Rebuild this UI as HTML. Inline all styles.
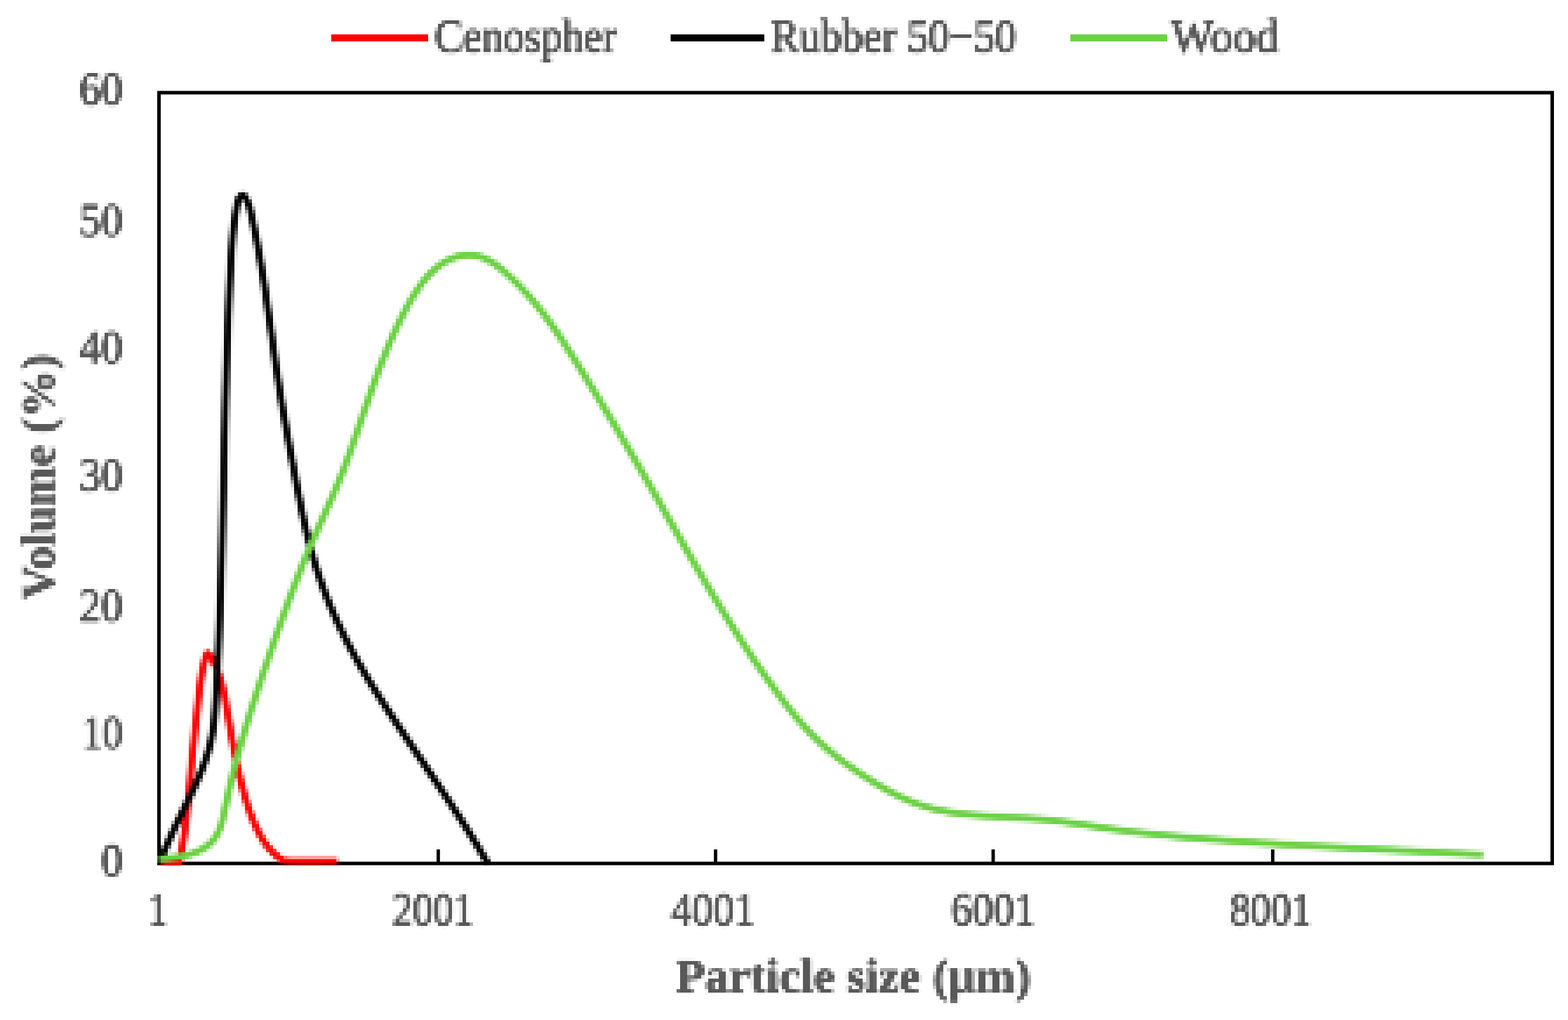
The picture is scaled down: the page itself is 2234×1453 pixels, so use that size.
<!DOCTYPE html>
<html lang="en">
<head>
<meta charset="utf-8">
<title>Particle size distribution</title>
<style>
html,body{margin:0;padding:0;background:#fff;}
body{width:2234px;height:1453px;overflow:hidden;}
svg{display:block;}
text{font-family:"Liberation Serif","DejaVu Serif",serif;font-size:66.7px;fill:#595959;}
</style>
</head>
<body>
<svg xmlns="http://www.w3.org/2000/svg" width="2234" height="1453" viewBox="0 0 2234 1453">
<rect x="0" y="0" width="2234" height="1453" fill="#ffffff"/>
<defs>
<filter id="px" filterUnits="userSpaceOnUse" primitiveUnits="userSpaceOnUse" x="-11" y="-11" width="2256" height="1475" color-interpolation-filters="sRGB">
<feGaussianBlur in="SourceGraphic" stdDeviation="1.45" result="avg"/>
<feFlood x="1" y="1" width="1" height="1" flood-color="#000" result="dot"/>
<feComposite in="dot" in2="dot" operator="over" x="-1" y="-1" width="5" height="5" result="cell"/>
<feTile in="cell" result="grid"/>
<feComposite in="avg" in2="grid" operator="in" result="samp"/>
<feMorphology in="samp" operator="dilate" radius="2"/>
</filter>
<filter id="pxt" filterUnits="userSpaceOnUse" primitiveUnits="userSpaceOnUse" x="-11" y="-11" width="2256" height="1475" color-interpolation-filters="sRGB">
<feGaussianBlur in="SourceGraphic" stdDeviation="1.45" result="avg"/>
<feFlood x="1" y="1" width="1" height="1" flood-color="#000" result="dot"/>
<feComposite in="dot" in2="dot" operator="over" x="-1" y="-1" width="5" height="5" result="cell"/>
<feTile in="cell" result="grid"/>
<feComposite in="avg" in2="grid" operator="in" result="samp"/>
<feMorphology in="samp" operator="dilate" radius="2" result="mos"/>
<feComponentTransfer in="mos"><feFuncA type="linear" slope="1.5" intercept="0"/></feComponentTransfer>
</filter>
</defs>
<rect x="226.5" y="132.0" width="1985.0" height="1098.0" fill="none" stroke="#000" stroke-width="5"/>
<rect x="622.0" y="1210" width="4.8" height="20" fill="#000"/>
<rect x="1017.1" y="1210" width="4.8" height="20" fill="#000"/>
<rect x="1412.6" y="1210" width="4.8" height="20" fill="#000"/>
<rect x="1810.9" y="1210" width="4.8" height="20" fill="#000"/>
<clipPath id="plot"><rect x="224.0" y="129.5" width="1990.0" height="1103.0"/></clipPath>
<g fill="none" stroke-linejoin="round" stroke-linecap="butt" stroke-width="9.8" clip-path="url(#plot)" filter="url(#px)">
<path d="M229,1230 L254.5,1230.0 L255.5,1229.0 L256.1,1226.1 L256.7,1223.1 L257.2,1220.2 L257.8,1217.2 L258.3,1214.3 L258.8,1211.3 L259.3,1208.3 L259.8,1205.4 L260.3,1202.4 L260.8,1199.5 L261.2,1196.5 L261.7,1193.5 L262.1,1190.6 L262.6,1187.6 L263.0,1184.6 L263.4,1181.6 L263.8,1178.7 L264.2,1175.7 L264.5,1172.7 L264.9,1169.7 L265.3,1166.7 L265.6,1163.8 L266.0,1160.8 L266.3,1157.8 L266.6,1154.8 L267.0,1151.8 L267.3,1148.8 L267.6,1145.8 L267.9,1142.9 L268.2,1139.9 L268.5,1136.9 L268.8,1133.9 L269.1,1130.9 L269.4,1127.9 L269.7,1124.9 L269.9,1121.9 L270.2,1118.9 L270.5,1115.9 L270.8,1112.9 L271.0,1110.0 L271.3,1107.0 L271.6,1104.0 L271.9,1101.0 L272.1,1098.0 L272.4,1095.0 L272.7,1092.0 L273.0,1089.0 L273.2,1086.0 L273.5,1083.0 L273.8,1080.0 L274.1,1077.0 L274.4,1074.1 L274.7,1071.1 L275.0,1068.1 L275.2,1065.1 L275.5,1062.1 L275.9,1059.1 L276.2,1056.1 L276.5,1053.2 L276.8,1050.2 L277.1,1047.2 L277.4,1044.2 L277.7,1041.2 L278.0,1038.2 L278.4,1035.3 L278.7,1032.3 L279.0,1029.3 L279.3,1026.3 L279.7,1023.3 L280.0,1020.3 L280.3,1017.3 L280.6,1014.4 L281.0,1011.4 L281.3,1008.4 L281.6,1005.4 L282.0,1002.4 L282.3,999.4 L282.6,996.4 L282.9,993.4 L283.3,990.4 L283.6,987.4 L284.0,984.4 L284.3,981.5 L284.7,978.5 L285.1,975.5 L285.5,972.5 L285.9,969.5 L286.4,966.6 L286.9,963.6 L287.4,960.7 L287.9,957.7 L288.5,954.8 L289.1,951.9 L289.8,949.0 L290.5,946.0 L291.2,943.1 L291.9,940.2 L292.7,937.2 L293.6,934.3 L294.7,931.5 L296.4,930.5 L298.2,932.7 L299.9,935.2 L301.5,937.8 L303.0,940.4 L304.4,943.1 L305.8,945.8 L307.1,948.5 L308.3,951.3 L309.4,954.0 L310.5,956.8 L311.5,959.6 L312.5,962.4 L313.4,965.3 L314.3,968.1 L315.1,971.0 L315.9,973.9 L316.6,976.8 L317.3,979.7 L318.0,982.6 L318.6,985.5 L319.2,988.4 L319.8,991.4 L320.3,994.3 L320.9,997.3 L321.4,1000.2 L321.9,1003.2 L322.4,1006.2 L322.9,1009.2 L323.4,1012.1 L323.9,1015.1 L324.4,1018.1 L324.9,1021.0 L325.5,1024.0 L326.0,1027.0 L326.5,1030.0 L327.0,1032.9 L327.5,1035.9 L328.0,1038.9 L328.6,1041.8 L329.1,1044.8 L329.6,1047.8 L330.2,1050.7 L330.7,1053.7 L331.3,1056.6 L331.8,1059.6 L332.4,1062.5 L332.9,1065.5 L333.5,1068.4 L334.1,1071.4 L334.7,1074.3 L335.2,1077.3 L335.8,1080.2 L336.4,1083.2 L337.1,1086.1 L337.7,1089.0 L338.3,1092.0 L338.9,1094.9 L339.6,1097.8 L340.2,1100.7 L340.9,1103.6 L341.5,1106.6 L342.2,1109.5 L342.9,1112.4 L343.7,1115.3 L344.4,1118.2 L345.1,1121.1 L345.9,1124.0 L346.7,1126.8 L347.5,1129.7 L348.3,1132.6 L349.1,1135.5 L350.0,1138.4 L350.9,1141.2 L351.8,1144.1 L352.7,1146.9 L353.6,1149.8 L354.6,1152.6 L355.6,1155.5 L356.6,1158.3 L357.7,1161.2 L358.8,1164.0 L359.9,1166.8 L361.0,1169.6 L362.2,1172.4 L363.4,1175.2 L364.7,1178.0 L366.0,1180.7 L367.3,1183.5 L368.7,1186.2 L370.1,1188.8 L371.6,1191.4 L373.1,1194.0 L374.7,1196.6 L376.4,1199.1 L378.0,1201.5 L379.8,1203.9 L381.6,1206.3 L383.5,1208.5 L385.4,1210.8 L387.4,1212.9 L389.5,1215.0 L391.7,1217.0 L393.9,1218.9 L396.2,1220.8 L398.6,1222.5 L401.0,1224.2 L403.6,1225.8 L407.7,1226.3 L413.5,1226.7 L420.7,1226.9 L428.9,1227.0 L437.7,1227.0 L446.7,1227.0 L455.5,1227.0 L463.8,1226.9 L471.0,1226.9 L476.9,1226.9 L481.0,1227.0" stroke="#ff0000"/>
<path d="M227.3,1230.0 L228.3,1227.2 L229.4,1224.4 L230.5,1221.5 L231.6,1218.7 L232.7,1216.0 L233.8,1213.2 L235.0,1210.4 L236.1,1207.6 L237.3,1204.9 L238.5,1202.1 L239.7,1199.4 L240.9,1196.7 L242.2,1193.9 L243.4,1191.2 L244.7,1188.5 L245.9,1185.8 L247.2,1183.1 L248.5,1180.3 L249.8,1177.6 L251.1,1174.9 L252.4,1172.2 L253.7,1169.5 L255.0,1166.9 L256.3,1164.2 L257.6,1161.5 L258.9,1158.8 L260.3,1156.1 L261.6,1153.4 L262.9,1150.7 L264.2,1148.0 L265.5,1145.3 L266.8,1142.6 L268.1,1139.9 L269.4,1137.2 L270.7,1134.5 L272.0,1131.8 L273.3,1129.0 L274.6,1126.3 L275.8,1123.6 L277.1,1120.9 L278.3,1118.1 L279.6,1115.4 L280.8,1112.6 L282.0,1109.9 L283.2,1107.1 L284.4,1104.3 L285.5,1101.5 L286.7,1098.8 L287.8,1096.0 L288.9,1093.2 L289.9,1090.3 L291.0,1087.5 L292.0,1084.7 L293.0,1081.9 L294.0,1079.0 L294.9,1076.2 L295.8,1073.3 L296.7,1070.5 L297.5,1067.6 L298.3,1064.7 L299.1,1061.8 L299.8,1058.9 L300.5,1056.0 L301.1,1053.1 L301.7,1050.2 L302.2,1047.2 L302.8,1044.3 L303.2,1041.4 L303.7,1038.4 L304.1,1035.4 L304.5,1032.5 L304.8,1029.5 L305.2,1026.5 L305.5,1023.5 L305.8,1020.6 L306.0,1017.6 L306.3,1014.6 L306.5,1011.6 L306.7,1008.6 L306.9,1005.6 L307.1,1002.6 L307.3,999.6 L307.5,996.6 L307.7,993.6 L307.9,990.6 L308.0,987.6 L308.2,984.6 L308.4,981.6 L308.5,978.6 L308.7,975.6 L308.9,972.6 L309.0,969.6 L309.2,966.6 L309.3,963.6 L309.5,960.6 L309.7,957.6 L309.8,954.6 L310.0,951.6 L310.1,948.6 L310.3,945.6 L310.4,942.6 L310.5,939.6 L310.7,936.6 L310.8,933.6 L311.0,930.6 L311.1,927.6 L311.2,924.6 L311.4,921.6 L311.5,918.6 L311.6,915.6 L311.7,912.6 L311.9,909.6 L312.0,906.6 L312.1,903.6 L312.2,900.6 L312.4,897.6 L312.5,894.6 L312.6,891.6 L312.7,888.6 L312.8,885.6 L312.9,882.6 L313.1,879.6 L313.2,876.6 L313.3,873.6 L313.4,870.6 L313.5,867.6 L313.6,864.6 L313.7,861.6 L313.8,858.6 L313.9,855.6 L314.0,852.6 L314.1,849.6 L314.2,846.6 L314.3,843.6 L314.4,840.6 L314.5,837.6 L314.6,834.6 L314.7,831.6 L314.8,828.6 L314.9,825.6 L315.0,822.6 L315.1,819.6 L315.1,816.6 L315.2,813.6 L315.3,810.6 L315.4,807.6 L315.5,804.6 L315.6,801.6 L315.7,798.6 L315.7,795.6 L315.8,792.6 L315.9,789.6 L316.0,786.6 L316.1,783.6 L316.1,780.6 L316.2,777.6 L316.3,774.6 L316.4,771.6 L316.5,768.6 L316.5,765.6 L316.6,762.6 L316.7,759.6 L316.8,756.6 L316.8,753.6 L316.9,750.6 L317.0,747.6 L317.1,744.6 L317.1,741.6 L317.2,738.6 L317.3,735.6 L317.4,732.6 L317.4,729.6 L317.5,726.6 L317.6,723.6 L317.7,720.6 L317.7,717.6 L317.8,714.6 L317.9,711.6 L317.9,708.6 L318.0,705.6 L318.1,702.6 L318.2,699.6 L318.2,696.6 L318.3,693.6 L318.4,690.6 L318.4,687.6 L318.5,684.6 L318.6,681.6 L318.7,678.6 L318.7,675.6 L318.8,672.6 L318.9,669.6 L318.9,666.6 L319.0,663.6 L319.1,660.6 L319.1,657.6 L319.2,654.6 L319.3,651.6 L319.4,648.6 L319.4,645.6 L319.5,642.6 L319.6,639.6 L319.7,636.6 L319.7,633.6 L319.8,630.6 L319.9,627.6 L319.9,624.6 L320.0,621.6 L320.1,618.6 L320.2,615.6 L320.2,612.6 L320.3,609.6 L320.4,606.6 L320.5,603.6 L320.5,600.6 L320.6,597.6 L320.7,594.6 L320.8,591.6 L320.8,588.6 L320.9,585.6 L321.0,582.6 L321.1,579.6 L321.2,576.6 L321.2,573.6 L321.3,570.6 L321.4,567.6 L321.5,564.6 L321.6,561.6 L321.7,558.6 L321.7,555.6 L321.8,552.6 L321.9,549.6 L322.0,546.6 L322.1,543.6 L322.2,540.6 L322.3,537.6 L322.3,534.6 L322.4,531.6 L322.5,528.6 L322.6,525.6 L322.7,522.6 L322.8,519.6 L322.9,516.6 L323.0,513.6 L323.1,510.6 L323.2,507.6 L323.3,504.6 L323.4,501.6 L323.5,498.6 L323.6,495.6 L323.7,492.6 L323.8,489.6 L323.9,486.6 L324.0,483.6 L324.1,480.6 L324.2,477.6 L324.3,474.6 L324.4,471.6 L324.5,468.6 L324.6,465.6 L324.7,462.6 L324.9,459.6 L325.0,456.6 L325.1,453.7 L325.2,450.7 L325.3,447.7 L325.4,444.7 L325.6,441.7 L325.7,438.7 L325.8,435.7 L326.0,432.7 L326.1,429.7 L326.2,426.7 L326.4,423.7 L326.5,420.7 L326.6,417.7 L326.8,414.7 L326.9,411.7 L327.1,408.7 L327.2,405.7 L327.4,402.7 L327.5,399.7 L327.7,396.7 L327.9,393.7 L328.0,390.7 L328.2,387.7 L328.4,384.7 L328.5,381.7 L328.7,378.7 L328.9,375.7 L329.1,372.7 L329.2,369.7 L329.4,366.7 L329.6,363.7 L329.8,360.7 L330.0,357.7 L330.2,354.7 L330.4,351.7 L330.7,348.7 L330.9,345.7 L331.1,342.7 L331.4,339.7 L331.6,336.7 L331.9,333.8 L332.2,330.8 L332.5,327.8 L332.9,324.8 L333.2,321.8 L333.6,318.9 L333.9,315.9 L334.3,312.9 L334.8,310.0 L335.2,307.0 L335.7,304.0 L336.2,301.1 L336.7,298.1 L337.2,295.2 L337.8,292.2 L338.4,289.3 L339.1,286.3 L340.1,283.4 L341.7,280.8 L343.8,278.7 L346.0,278.2 L348.1,279.5 L350.0,282.1 L351.5,285.1 L352.8,287.9 L353.9,290.6 L354.9,293.4 L355.7,296.2 L356.5,299.1 L357.2,302.0 L357.8,304.9 L358.5,307.9 L359.1,310.8 L359.8,313.7 L360.4,316.7 L361.1,319.6 L361.7,322.5 L362.3,325.5 L362.9,328.4 L363.5,331.4 L364.1,334.3 L364.7,337.3 L365.3,340.2 L365.8,343.2 L366.4,346.1 L366.9,349.1 L367.5,352.0 L368.0,355.0 L368.6,357.9 L369.1,360.9 L369.6,363.8 L370.2,366.8 L370.7,369.7 L371.2,372.7 L371.7,375.6 L372.2,378.6 L372.7,381.6 L373.2,384.5 L373.7,387.5 L374.1,390.5 L374.6,393.4 L375.1,396.4 L375.6,399.3 L376.0,402.3 L376.5,405.3 L377.0,408.2 L377.4,411.2 L377.9,414.2 L378.3,417.1 L378.8,420.1 L379.2,423.1 L379.6,426.0 L380.1,429.0 L380.5,432.0 L380.9,435.0 L381.4,437.9 L381.8,440.9 L382.2,443.9 L382.7,446.8 L383.1,449.8 L383.5,452.8 L383.9,455.8 L384.4,458.7 L384.8,461.7 L385.2,464.7 L385.6,467.6 L386.0,470.6 L386.5,473.6 L386.9,476.6 L387.3,479.5 L387.7,482.5 L388.1,485.5 L388.5,488.4 L389.0,491.4 L389.4,494.4 L389.8,497.4 L390.2,500.3 L390.7,503.3 L391.1,506.3 L391.5,509.2 L391.9,512.2 L392.4,515.2 L392.8,518.2 L393.2,521.1 L393.7,524.1 L394.1,527.1 L394.6,530.0 L395.0,533.0 L395.4,536.0 L395.9,538.9 L396.4,541.9 L396.8,544.9 L397.3,547.8 L397.7,550.8 L398.2,553.7 L398.7,556.7 L399.2,559.7 L399.6,562.6 L400.1,565.6 L400.6,568.5 L401.1,571.5 L401.6,574.5 L402.1,577.4 L402.6,580.4 L403.1,583.3 L403.6,586.3 L404.1,589.2 L404.6,592.2 L405.1,595.1 L405.6,598.1 L406.2,601.1 L406.7,604.0 L407.2,607.0 L407.7,609.9 L408.3,612.9 L408.8,615.8 L409.3,618.8 L409.9,621.7 L410.4,624.7 L411.0,627.6 L411.5,630.6 L412.0,633.5 L412.6,636.5 L413.1,639.4 L413.7,642.4 L414.2,645.3 L414.8,648.3 L415.3,651.2 L415.9,654.2 L416.4,657.1 L417.0,660.1 L417.5,663.0 L418.1,666.0 L418.7,668.9 L419.2,671.9 L419.8,674.8 L420.3,677.8 L420.9,680.7 L421.5,683.7 L422.0,686.7 L422.6,689.6 L423.1,692.6 L423.7,695.5 L424.3,698.5 L424.8,701.4 L425.4,704.4 L426.0,707.3 L426.6,710.3 L427.2,713.2 L427.7,716.2 L428.3,719.1 L428.9,722.1 L429.5,725.0 L430.1,727.9 L430.8,730.9 L431.4,733.8 L432.0,736.8 L432.6,739.7 L433.3,742.6 L433.9,745.6 L434.6,748.5 L435.3,751.4 L435.9,754.4 L436.6,757.3 L437.3,760.2 L438.0,763.1 L438.7,766.0 L439.4,768.9 L440.2,771.8 L440.9,774.8 L441.7,777.7 L442.4,780.6 L443.2,783.4 L444.0,786.3 L444.8,789.2 L445.6,792.1 L446.5,795.0 L447.3,797.9 L448.2,800.7 L449.0,803.6 L449.9,806.5 L450.8,809.3 L451.7,812.2 L452.7,815.0 L453.6,817.9 L454.6,820.7 L455.5,823.6 L456.5,826.4 L457.5,829.2 L458.5,832.0 L459.5,834.9 L460.6,837.7 L461.6,840.5 L462.7,843.3 L463.7,846.1 L464.8,848.9 L465.9,851.7 L467.0,854.5 L468.2,857.2 L469.3,860.0 L470.5,862.8 L471.6,865.5 L472.8,868.3 L474.0,871.1 L475.2,873.8 L476.4,876.6 L477.6,879.3 L478.9,882.0 L480.1,884.8 L481.4,887.5 L482.6,890.2 L483.9,892.9 L485.2,895.6 L486.5,898.3 L487.8,901.0 L489.2,903.7 L490.5,906.4 L491.8,909.1 L493.2,911.7 L494.6,914.4 L496.0,917.1 L497.4,919.7 L498.8,922.4 L500.2,925.0 L501.6,927.6 L503.0,930.3 L504.5,932.9 L505.9,935.5 L507.4,938.1 L508.9,940.8 L510.4,943.4 L511.9,946.0 L513.4,948.6 L514.9,951.2 L516.4,953.8 L517.9,956.3 L519.4,958.9 L521.0,961.5 L522.5,964.1 L524.1,966.6 L525.6,969.2 L527.2,971.8 L528.8,974.3 L530.4,976.9 L532.0,979.4 L533.5,982.0 L535.1,984.5 L536.7,987.1 L538.4,989.6 L540.0,992.1 L541.6,994.7 L543.2,997.2 L544.8,999.7 L546.5,1002.2 L548.1,1004.7 L549.7,1007.3 L551.4,1009.8 L553.0,1012.3 L554.7,1014.8 L556.3,1017.3 L558.0,1019.8 L559.7,1022.3 L561.3,1024.8 L563.0,1027.3 L564.6,1029.8 L566.3,1032.3 L568.0,1034.8 L569.6,1037.3 L571.3,1039.8 L573.0,1042.3 L574.7,1044.8 L576.3,1047.3 L578.0,1049.8 L579.7,1052.3 L581.4,1054.8 L583.1,1057.3 L584.7,1059.7 L586.4,1062.2 L588.1,1064.7 L589.8,1067.2 L591.5,1069.7 L593.2,1072.2 L594.8,1074.6 L596.5,1077.1 L598.2,1079.6 L599.9,1082.1 L601.6,1084.6 L603.3,1087.1 L604.9,1089.5 L606.6,1092.0 L608.3,1094.5 L610.0,1097.0 L611.7,1099.5 L613.4,1102.0 L615.0,1104.4 L616.7,1106.9 L618.4,1109.4 L620.1,1111.9 L621.7,1114.4 L623.4,1116.9 L625.1,1119.4 L626.8,1121.9 L628.4,1124.4 L630.1,1126.9 L631.8,1129.3 L633.4,1131.8 L635.1,1134.3 L636.7,1136.8 L638.4,1139.3 L640.1,1141.8 L641.7,1144.3 L643.3,1146.9 L645.0,1149.4 L646.6,1151.9 L648.3,1154.4 L649.9,1156.9 L651.5,1159.4 L653.2,1161.9 L654.8,1164.4 L656.4,1167.0 L658.0,1169.5 L659.6,1172.0 L661.3,1174.6 L662.9,1177.1 L664.5,1179.6 L666.1,1182.2 L667.7,1184.7 L669.3,1187.2 L670.8,1189.8 L672.4,1192.3 L674.0,1194.9 L675.6,1197.4 L677.1,1200.0 L678.7,1202.6 L680.2,1205.1 L681.8,1207.7 L683.3,1210.3 L684.9,1212.9 L686.4,1215.4 L687.9,1218.0 L689.5,1220.6 L691.0,1223.2 L692.5,1225.8 L694.0,1228.4 L695.5,1231.0" stroke="#000000"/>
<path d="M226.4,1223.5 L229.2,1223.3 L232.1,1223.1 L235.0,1222.9 L238.0,1222.6 L241.0,1222.3 L244.1,1222.0 L247.2,1221.6 L250.3,1221.2 L253.4,1220.8 L256.5,1220.3 L259.6,1219.7 L262.7,1219.0 L265.7,1218.3 L268.7,1217.5 L271.7,1216.7 L274.6,1215.7 L277.4,1214.7 L280.2,1213.5 L283.0,1212.3 L285.6,1211.0 L288.2,1209.6 L290.6,1208.1 L293.0,1206.5 L295.3,1204.8 L297.5,1203.0 L299.6,1201.1 L301.6,1199.1 L303.5,1197.1 L305.2,1194.9 L306.9,1192.6 L308.4,1190.3 L309.7,1187.8 L311.0,1185.3 L312.2,1182.7 L313.3,1180.0 L314.3,1177.3 L315.2,1174.4 L316.0,1171.6 L316.8,1168.7 L317.6,1165.8 L318.3,1162.8 L318.9,1159.8 L319.6,1156.8 L320.2,1153.8 L320.8,1150.8 L321.4,1147.8 L322.1,1144.8 L322.7,1141.9 L323.3,1138.9 L324.0,1135.9 L324.6,1133.0 L325.3,1130.0 L325.9,1127.1 L326.6,1124.1 L327.3,1121.2 L328.0,1118.3 L328.6,1115.3 L329.3,1112.4 L330.0,1109.5 L330.8,1106.6 L331.5,1103.6 L332.2,1100.7 L332.9,1097.8 L333.7,1094.9 L334.4,1092.0 L335.2,1089.1 L335.9,1086.2 L336.7,1083.3 L337.5,1080.4 L338.3,1077.5 L339.0,1074.6 L339.8,1071.7 L340.6,1068.8 L341.4,1065.9 L342.3,1063.0 L343.1,1060.1 L343.9,1057.3 L344.7,1054.4 L345.6,1051.5 L346.4,1048.6 L347.3,1045.7 L348.1,1042.9 L349.0,1040.0 L349.8,1037.1 L350.7,1034.2 L351.6,1031.4 L352.5,1028.5 L353.3,1025.6 L354.2,1022.8 L355.1,1019.9 L356.0,1017.0 L356.9,1014.2 L357.8,1011.3 L358.7,1008.4 L359.7,1005.6 L360.6,1002.7 L361.5,999.9 L362.4,997.0 L363.3,994.2 L364.3,991.3 L365.2,988.4 L366.2,985.6 L367.1,982.7 L368.0,979.9 L369.0,977.0 L369.9,974.2 L370.9,971.3 L371.8,968.5 L372.8,965.7 L373.8,962.8 L374.7,960.0 L375.7,957.1 L376.6,954.3 L377.6,951.4 L378.6,948.6 L379.6,945.7 L380.5,942.9 L381.5,940.1 L382.5,937.2 L383.4,934.4 L384.4,931.5 L385.4,928.7 L386.4,925.9 L387.4,923.0 L388.3,920.2 L389.3,917.3 L390.3,914.5 L391.3,911.7 L392.3,908.8 L393.3,906.0 L394.3,903.2 L395.3,900.3 L396.3,897.5 L397.3,894.7 L398.3,891.8 L399.3,889.0 L400.3,886.2 L401.3,883.3 L402.3,880.5 L403.3,877.7 L404.3,874.9 L405.4,872.0 L406.4,869.2 L407.4,866.4 L408.4,863.6 L409.5,860.8 L410.5,857.9 L411.6,855.1 L412.6,852.3 L413.7,849.5 L414.7,846.7 L415.8,843.9 L416.8,841.1 L417.9,838.3 L419.0,835.4 L420.0,832.6 L421.1,829.8 L422.2,827.0 L423.3,824.2 L424.4,821.4 L425.5,818.7 L426.6,815.9 L427.7,813.1 L428.8,810.3 L429.9,807.5 L431.0,804.7 L432.1,801.9 L433.3,799.1 L434.4,796.4 L435.6,793.6 L436.7,790.8 L437.9,788.0 L439.0,785.3 L440.2,782.5 L441.4,779.7 L442.5,777.0 L443.7,774.2 L444.9,771.5 L446.1,768.7 L447.3,766.0 L448.5,763.2 L449.7,760.5 L451.0,757.7 L452.2,755.0 L453.4,752.2 L454.6,749.5 L455.9,746.7 L457.1,744.0 L458.4,741.3 L459.6,738.5 L460.8,735.8 L462.1,733.0 L463.3,730.3 L464.5,727.6 L465.8,724.8 L467.0,722.1 L468.2,719.3 L469.5,716.6 L470.7,713.9 L471.9,711.1 L473.1,708.4 L474.3,705.6 L475.5,702.9 L476.7,700.1 L477.9,697.4 L479.0,694.6 L480.2,691.8 L481.4,689.1 L482.5,686.3 L483.6,683.5 L484.8,680.7 L485.9,677.9 L487.0,675.2 L488.1,672.4 L489.2,669.6 L490.2,666.8 L491.3,664.0 L492.4,661.2 L493.4,658.4 L494.5,655.5 L495.5,652.7 L496.5,649.9 L497.6,647.1 L498.6,644.3 L499.6,641.5 L500.6,638.6 L501.6,635.8 L502.6,633.0 L503.6,630.1 L504.6,627.3 L505.6,624.5 L506.6,621.6 L507.5,618.8 L508.5,616.0 L509.5,613.1 L510.5,610.3 L511.4,607.4 L512.4,604.6 L513.4,601.7 L514.4,598.9 L515.3,596.1 L516.3,593.2 L517.3,590.4 L518.3,587.5 L519.2,584.7 L520.2,581.8 L521.2,579.0 L522.2,576.1 L523.2,573.3 L524.2,570.5 L525.1,567.6 L526.1,564.8 L527.1,561.9 L528.1,559.1 L529.1,556.3 L530.1,553.4 L531.1,550.6 L532.2,547.8 L533.2,544.9 L534.2,542.1 L535.2,539.3 L536.3,536.4 L537.3,533.6 L538.4,530.8 L539.4,528.0 L540.5,525.2 L541.6,522.4 L542.6,519.6 L543.7,516.8 L544.8,514.0 L545.9,511.2 L547.0,508.4 L548.1,505.6 L549.3,502.8 L550.4,500.1 L551.5,497.3 L552.7,494.5 L553.9,491.8 L555.0,489.0 L556.2,486.2 L557.4,483.5 L558.6,480.8 L559.8,478.0 L561.1,475.3 L562.3,472.6 L563.6,469.9 L564.8,467.1 L566.1,464.4 L567.4,461.7 L568.7,459.0 L570.0,456.4 L571.3,453.7 L572.7,451.0 L574.0,448.3 L575.4,445.7 L576.8,443.0 L578.2,440.4 L579.6,437.8 L581.1,435.1 L582.5,432.5 L584.0,429.9 L585.5,427.3 L587.0,424.7 L588.5,422.2 L590.1,419.6 L591.7,417.1 L593.4,414.5 L595.0,412.0 L596.7,409.6 L598.5,407.1 L600.3,404.7 L602.1,402.3 L604.0,399.9 L606.0,397.5 L608.0,395.2 L610.0,392.9 L612.1,390.7 L614.2,388.5 L616.4,386.3 L618.7,384.2 L621.0,382.2 L623.4,380.3 L625.8,378.4 L628.2,376.6 L630.8,374.9 L633.3,373.3 L635.9,371.8 L638.6,370.5 L641.3,369.2 L644.1,368.0 L646.9,367.0 L649.8,366.1 L652.7,365.3 L655.6,364.6 L658.5,364.1 L661.4,363.7 L664.4,363.5 L667.3,363.4 L670.2,363.4 L673.1,363.6 L676.0,363.9 L678.9,364.4 L681.7,365.0 L684.4,365.8 L687.2,366.7 L689.9,367.8 L692.5,368.9 L695.1,370.3 L697.7,371.7 L700.3,373.2 L702.8,374.8 L705.2,376.5 L707.7,378.3 L710.1,380.1 L712.5,382.0 L714.9,383.9 L717.2,385.9 L719.5,387.9 L721.8,389.9 L724.1,391.9 L726.3,394.0 L728.6,396.0 L730.8,398.1 L732.9,400.2 L735.1,402.3 L737.3,404.4 L739.4,406.6 L741.5,408.7 L743.6,410.9 L745.6,413.1 L747.7,415.3 L749.7,417.5 L751.7,419.8 L753.7,422.0 L755.7,424.3 L757.6,426.5 L759.6,428.8 L761.5,431.1 L763.4,433.4 L765.3,435.7 L767.2,438.1 L769.1,440.4 L770.9,442.8 L772.8,445.1 L774.6,447.5 L776.4,449.9 L778.2,452.3 L780.0,454.7 L781.8,457.1 L783.5,459.6 L785.3,462.0 L787.0,464.4 L788.8,466.9 L790.5,469.3 L792.2,471.8 L793.9,474.3 L795.6,476.8 L797.3,479.3 L799.0,481.7 L800.6,484.2 L802.3,486.8 L803.9,489.3 L805.6,491.8 L807.2,494.3 L808.9,496.8 L810.5,499.4 L812.1,501.9 L813.7,504.4 L815.3,507.0 L816.9,509.5 L818.5,512.1 L820.1,514.6 L821.7,517.2 L823.3,519.7 L824.9,522.3 L826.5,524.8 L828.1,527.4 L829.7,529.9 L831.2,532.5 L832.8,535.0 L834.4,537.6 L836.0,540.2 L837.5,542.7 L839.1,545.3 L840.7,547.8 L842.3,550.4 L843.8,553.0 L845.4,555.5 L847.0,558.1 L848.5,560.7 L850.1,563.2 L851.6,565.8 L853.2,568.4 L854.7,570.9 L856.3,573.5 L857.9,576.1 L859.4,578.6 L861.0,581.2 L862.5,583.8 L864.1,586.4 L865.6,588.9 L867.1,591.5 L868.7,594.1 L870.2,596.7 L871.8,599.2 L873.3,601.8 L874.8,604.4 L876.4,607.0 L877.9,609.6 L879.4,612.1 L881.0,614.7 L882.5,617.3 L884.0,619.9 L885.6,622.5 L887.1,625.0 L888.6,627.6 L890.1,630.2 L891.6,632.8 L893.2,635.4 L894.7,638.0 L896.2,640.6 L897.7,643.2 L899.2,645.7 L900.7,648.3 L902.3,650.9 L903.8,653.5 L905.3,656.1 L906.8,658.7 L908.3,661.3 L909.8,663.9 L911.3,666.5 L912.8,669.1 L914.3,671.7 L915.8,674.3 L917.3,676.9 L918.8,679.5 L920.3,682.1 L921.8,684.7 L923.3,687.3 L924.8,689.9 L926.3,692.5 L927.8,695.1 L929.3,697.7 L930.8,700.3 L932.3,702.9 L933.7,705.5 L935.2,708.2 L936.7,710.8 L938.2,713.4 L939.7,716.0 L941.2,718.6 L942.7,721.2 L944.2,723.8 L945.6,726.4 L947.1,729.0 L948.6,731.6 L950.1,734.3 L951.6,736.9 L953.1,739.5 L954.6,742.1 L956.0,744.7 L957.5,747.3 L959.0,749.9 L960.5,752.5 L962.0,755.1 L963.5,757.7 L965.0,760.4 L966.5,763.0 L968.0,765.6 L969.5,768.2 L970.9,770.8 L972.4,773.4 L973.9,776.0 L975.4,778.6 L976.9,781.2 L978.4,783.8 L979.9,786.4 L981.4,789.0 L982.9,791.6 L984.4,794.2 L985.9,796.8 L987.4,799.4 L988.9,802.0 L990.4,804.6 L992.0,807.2 L993.5,809.8 L995.0,812.4 L996.5,815.0 L998.0,817.6 L999.5,820.2 L1001.1,822.8 L1002.6,825.4 L1004.1,827.9 L1005.6,830.5 L1007.2,833.1 L1008.7,835.7 L1010.2,838.3 L1011.8,840.9 L1013.3,843.4 L1014.9,846.0 L1016.4,848.6 L1017.9,851.2 L1019.5,853.7 L1021.0,856.3 L1022.6,858.9 L1024.2,861.4 L1025.7,864.0 L1027.3,866.6 L1028.9,869.1 L1030.4,871.7 L1032.0,874.2 L1033.6,876.8 L1035.2,879.3 L1036.7,881.9 L1038.3,884.4 L1039.9,887.0 L1041.5,889.5 L1043.1,892.1 L1044.7,894.6 L1046.3,897.2 L1047.9,899.7 L1049.5,902.2 L1051.2,904.7 L1052.8,907.3 L1054.4,909.8 L1056.0,912.3 L1057.7,914.8 L1059.3,917.4 L1061.0,919.9 L1062.6,922.4 L1064.3,924.9 L1065.9,927.4 L1067.6,929.9 L1069.2,932.4 L1070.9,934.9 L1072.6,937.4 L1074.3,939.9 L1075.9,942.4 L1077.6,944.8 L1079.3,947.3 L1081.0,949.8 L1082.7,952.3 L1084.4,954.7 L1086.1,957.2 L1087.9,959.7 L1089.6,962.1 L1091.3,964.6 L1093.0,967.1 L1094.8,969.5 L1096.5,971.9 L1098.3,974.4 L1100.0,976.8 L1101.8,979.3 L1103.6,981.7 L1105.3,984.1 L1107.1,986.6 L1108.9,989.0 L1110.7,991.4 L1112.5,993.8 L1114.3,996.2 L1116.1,998.6 L1117.9,1001.0 L1119.8,1003.4 L1121.6,1005.8 L1123.5,1008.1 L1125.3,1010.5 L1127.2,1012.8 L1129.1,1015.2 L1131.0,1017.5 L1132.9,1019.8 L1134.8,1022.1 L1136.7,1024.4 L1138.7,1026.7 L1140.6,1029.0 L1142.6,1031.3 L1144.6,1033.5 L1146.6,1035.7 L1148.6,1037.9 L1150.7,1040.1 L1152.7,1042.3 L1154.8,1044.5 L1156.9,1046.6 L1159.0,1048.7 L1161.1,1050.9 L1163.2,1052.9 L1165.4,1055.0 L1167.5,1057.1 L1169.7,1059.1 L1172.0,1061.1 L1174.2,1063.1 L1176.4,1065.1 L1178.7,1067.0 L1181.0,1069.0 L1183.3,1070.9 L1185.6,1072.8 L1187.9,1074.7 L1190.3,1076.6 L1192.6,1078.4 L1195.0,1080.2 L1197.4,1082.1 L1199.8,1083.9 L1202.2,1085.7 L1204.6,1087.5 L1207.1,1089.2 L1209.5,1091.0 L1212.0,1092.7 L1214.5,1094.4 L1216.9,1096.1 L1219.4,1097.8 L1221.9,1099.5 L1224.4,1101.2 L1226.9,1102.9 L1229.5,1104.5 L1232.0,1106.2 L1234.5,1107.8 L1237.1,1109.4 L1239.6,1111.0 L1242.2,1112.6 L1244.8,1114.2 L1247.3,1115.8 L1249.9,1117.4 L1252.5,1118.9 L1255.1,1120.4 L1257.7,1122.0 L1260.3,1123.4 L1263.0,1124.9 L1265.6,1126.4 L1268.2,1127.8 L1270.9,1129.2 L1273.6,1130.6 L1276.2,1131.9 L1278.9,1133.3 L1281.6,1134.6 L1284.3,1135.9 L1287.0,1137.1 L1289.8,1138.3 L1292.5,1139.5 L1295.2,1140.7 L1298.0,1141.8 L1300.8,1142.9 L1303.6,1144.0 L1306.4,1145.0 L1309.2,1146.0 L1312.0,1147.0 L1314.8,1147.9 L1317.7,1148.8 L1320.5,1149.6 L1323.4,1150.4 L1326.3,1151.2 L1329.2,1152.0 L1332.1,1152.7 L1335.0,1153.3 L1337.9,1154.0 L1340.8,1154.6 L1343.8,1155.2 L1346.7,1155.7 L1349.7,1156.3 L1352.7,1156.8 L1355.6,1157.3 L1358.6,1157.7 L1361.6,1158.1 L1364.6,1158.5 L1367.6,1158.9 L1370.6,1159.3 L1373.6,1159.6 L1376.6,1160.0 L1379.6,1160.3 L1382.6,1160.6 L1385.6,1160.9 L1388.6,1161.1 L1391.6,1161.4 L1394.6,1161.6 L1397.7,1161.8 L1400.7,1162.1 L1403.7,1162.3 L1406.7,1162.5 L1409.7,1162.7 L1412.7,1162.8 L1415.7,1163.0 L1418.7,1163.2 L1421.7,1163.4 L1424.7,1163.5 L1427.7,1163.7 L1430.7,1163.9 L1433.7,1164.0 L1436.7,1164.2 L1439.7,1164.3 L1442.7,1164.5 L1445.7,1164.7 L1448.7,1164.8 L1451.7,1165.0 L1454.7,1165.2 L1457.7,1165.3 L1460.6,1165.5 L1463.6,1165.7 L1466.6,1165.9 L1469.6,1166.1 L1472.6,1166.3 L1475.6,1166.6 L1478.6,1166.8 L1481.5,1167.0 L1484.5,1167.3 L1487.5,1167.6 L1490.5,1167.9 L1493.5,1168.2 L1496.4,1168.5 L1499.4,1168.8 L1502.4,1169.1 L1505.4,1169.5 L1508.4,1169.9 L1511.3,1170.2 L1514.3,1170.6 L1517.3,1171.0 L1520.3,1171.4 L1523.2,1171.9 L1526.2,1172.3 L1529.2,1172.7 L1532.1,1173.1 L1535.1,1173.6 L1538.1,1174.0 L1541.1,1174.5 L1544.0,1174.9 L1547.0,1175.4 L1550.0,1175.8 L1553.0,1176.3 L1555.9,1176.7 L1558.9,1177.2 L1561.9,1177.7 L1564.9,1178.1 L1567.8,1178.6 L1570.8,1179.0 L1573.8,1179.5 L1576.8,1179.9 L1579.7,1180.3 L1582.7,1180.8 L1585.7,1181.2 L1588.7,1181.6 L1591.6,1182.0 L1594.6,1182.4 L1597.6,1182.8 L1600.6,1183.2 L1603.6,1183.6 L1606.5,1184.0 L1609.5,1184.4 L1612.5,1184.7 L1615.5,1185.1 L1618.5,1185.5 L1621.4,1185.8 L1624.4,1186.2 L1627.4,1186.5 L1630.4,1186.9 L1633.4,1187.2 L1636.4,1187.5 L1639.3,1187.9 L1642.3,1188.2 L1645.3,1188.5 L1648.3,1188.8 L1651.3,1189.1 L1654.3,1189.4 L1657.3,1189.7 L1660.2,1190.0 L1663.2,1190.3 L1666.2,1190.6 L1669.2,1190.9 L1672.2,1191.2 L1675.2,1191.5 L1678.2,1191.8 L1681.2,1192.0 L1684.2,1192.3 L1687.1,1192.6 L1690.1,1192.8 L1693.1,1193.1 L1696.1,1193.4 L1699.1,1193.6 L1702.1,1193.9 L1705.1,1194.1 L1708.1,1194.4 L1711.1,1194.6 L1714.1,1194.8 L1717.1,1195.1 L1720.0,1195.3 L1723.0,1195.5 L1726.0,1195.8 L1729.0,1196.0 L1732.0,1196.2 L1735.0,1196.5 L1738.0,1196.7 L1741.0,1196.9 L1744.0,1197.1 L1747.0,1197.3 L1750.0,1197.5 L1753.0,1197.8 L1756.0,1198.0 L1759.0,1198.2 L1762.0,1198.4 L1765.0,1198.6 L1768.0,1198.8 L1770.9,1199.0 L1773.9,1199.2 L1776.9,1199.4 L1779.9,1199.6 L1782.9,1199.8 L1785.9,1200.0 L1788.9,1200.2 L1791.9,1200.4 L1794.9,1200.6 L1797.9,1200.8 L1800.9,1201.0 L1803.9,1201.2 L1806.9,1201.4 L1809.9,1201.5 L1812.9,1201.7 L1815.9,1201.9 L1818.9,1202.1 L1821.9,1202.3 L1824.9,1202.5 L1827.9,1202.6 L1830.9,1202.8 L1833.9,1203.0 L1836.9,1203.2 L1839.9,1203.4 L1842.9,1203.5 L1845.9,1203.7 L1848.9,1203.9 L1851.9,1204.1 L1854.9,1204.2 L1857.9,1204.4 L1860.9,1204.6 L1863.9,1204.7 L1866.9,1204.9 L1869.9,1205.1 L1872.9,1205.2 L1875.9,1205.4 L1878.9,1205.6 L1881.9,1205.7 L1884.9,1205.9 L1887.9,1206.1 L1890.9,1206.2 L1893.9,1206.4 L1896.9,1206.6 L1899.9,1206.7 L1902.9,1206.9 L1905.9,1207.0 L1908.8,1207.2 L1911.8,1207.4 L1914.8,1207.5 L1917.8,1207.7 L1920.8,1207.8 L1923.8,1208.0 L1926.8,1208.1 L1929.8,1208.3 L1932.8,1208.4 L1935.8,1208.6 L1938.8,1208.8 L1941.8,1208.9 L1944.8,1209.1 L1947.8,1209.2 L1950.8,1209.4 L1953.8,1209.5 L1956.8,1209.7 L1959.8,1209.8 L1962.8,1210.0 L1965.8,1210.1 L1968.8,1210.3 L1971.8,1210.4 L1974.8,1210.6 L1977.8,1210.7 L1980.8,1210.9 L1983.8,1211.0 L1986.8,1211.2 L1989.8,1211.3 L1992.8,1211.5 L1995.8,1211.6 L1998.8,1211.8 L2001.8,1211.9 L2004.8,1212.1 L2007.8,1212.2 L2010.8,1212.4 L2013.8,1212.5 L2016.8,1212.7 L2019.8,1212.8 L2022.8,1213.0 L2025.8,1213.1 L2028.8,1213.3 L2031.8,1213.4 L2034.8,1213.6 L2037.8,1213.7 L2040.8,1213.9 L2043.8,1214.0 L2046.8,1214.2 L2049.8,1214.3 L2052.8,1214.5 L2055.8,1214.6 L2058.8,1214.8 L2061.8,1214.9 L2064.8,1215.1 L2067.8,1215.2 L2070.8,1215.4 L2073.8,1215.6 L2076.8,1215.7 L2079.8,1215.9 L2082.8,1216.0 L2085.8,1216.2 L2088.8,1216.3 L2091.8,1216.5 L2094.8,1216.6 L2097.8,1216.8 L2100.8,1217.0 L2103.8,1217.1 L2106.8,1217.3 L2109.8,1217.4 L2112.8,1217.6" stroke="#6bd143"/>
</g>
<rect x="472" y="49" width="138" height="10" fill="#ff0000"/>
<rect x="955.5" y="49" width="133.5" height="10" fill="#000000"/>
<rect x="1525" y="49" width="138" height="10" fill="#6bd143"/>
<g filter="url(#pxt)">
<text x="619" y="73.6" text-anchor="start" font-weight="normal" textLength="260" lengthAdjust="spacingAndGlyphs" stroke="#595959" stroke-width="0.6">Cenospher</text>
<text x="1098" y="73.6" text-anchor="start" font-weight="normal" textLength="350" lengthAdjust="spacingAndGlyphs" stroke="#595959" stroke-width="0.6">Rubber 50−50</text>
<text x="1668" y="73.6" text-anchor="start" font-weight="normal" textLength="154" lengthAdjust="spacingAndGlyphs" stroke="#595959" stroke-width="0.6">Wood</text>
<text x="113" y="149.4" text-anchor="start" font-weight="normal" textLength="62" lengthAdjust="spacingAndGlyphs" stroke="#595959" stroke-width="0.6">60</text>
<text x="113" y="336" text-anchor="start" font-weight="normal" textLength="62" lengthAdjust="spacingAndGlyphs" stroke="#595959" stroke-width="0.6">50</text>
<text x="113" y="517" text-anchor="start" font-weight="normal" textLength="62" lengthAdjust="spacingAndGlyphs" stroke="#595959" stroke-width="0.6">40</text>
<text x="113" y="699" text-anchor="start" font-weight="normal" textLength="62" lengthAdjust="spacingAndGlyphs" stroke="#595959" stroke-width="0.6">30</text>
<text x="113" y="885" text-anchor="start" font-weight="normal" textLength="62" lengthAdjust="spacingAndGlyphs" stroke="#595959" stroke-width="0.6">20</text>
<text x="117" y="1066.4" text-anchor="start" font-weight="normal" textLength="58" lengthAdjust="spacingAndGlyphs" stroke="#595959" stroke-width="0.6">10</text>
<text x="144" y="1247.7" text-anchor="start" font-weight="normal" textLength="31" lengthAdjust="spacingAndGlyphs" stroke="#595959" stroke-width="0.6">0</text>
<text x="211" y="1318" text-anchor="start" font-weight="normal" textLength="28" lengthAdjust="spacingAndGlyphs" stroke="#595959" stroke-width="0.6">1</text>
<text x="559" y="1318" text-anchor="start" font-weight="normal" textLength="116" lengthAdjust="spacingAndGlyphs" stroke="#595959" stroke-width="0.6">2001</text>
<text x="956" y="1318" text-anchor="start" font-weight="normal" textLength="120" lengthAdjust="spacingAndGlyphs" stroke="#595959" stroke-width="0.6">4001</text>
<text x="1355" y="1318" text-anchor="start" font-weight="normal" textLength="120" lengthAdjust="spacingAndGlyphs" stroke="#595959" stroke-width="0.6">6001</text>
<text x="1752.5" y="1318" text-anchor="start" font-weight="normal" textLength="116" lengthAdjust="spacingAndGlyphs" stroke="#595959" stroke-width="0.6">8001</text>
<text x="963" y="1413.2" text-anchor="start" font-weight="bold" textLength="506" lengthAdjust="spacingAndGlyphs">Particle size (μm)</text>
<text transform="translate(77,855) rotate(-90)" x="0" y="0" font-weight="bold" textLength="351" lengthAdjust="spacingAndGlyphs">Volume (%)</text>
</g>
</svg>
</body>
</html>
